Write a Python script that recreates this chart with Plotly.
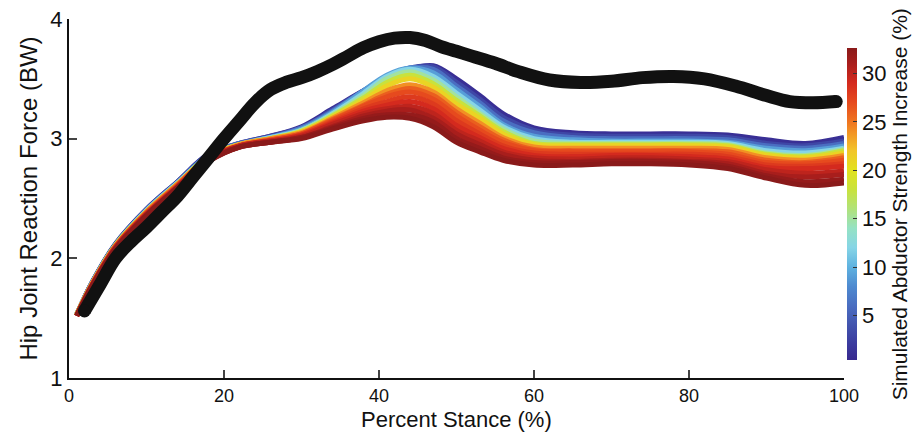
import plotly.graph_objects as go
from plotly.colors import sample_colorscale

# ---------------- data ----------------
# Percent stance sample points for the simulated curves
stance = [1, 3, 6, 10, 14, 18, 22, 26, 30, 34, 38, 41, 44, 47, 50, 53, 56, 60, 65, 70, 75, 80, 85, 90, 95, 100]

# Simulated abductor strength increase (%) of each curve
strength = [1, 3, 6, 9, 12, 15, 18, 21, 24, 26, 27, 28, 29, 30, 31, 32, 33]

s01 = [1.53, 1.80, 2.12, 2.41, 2.64, 2.87, 2.96, 3.02, 3.10, 3.25, 3.40, 3.50, 3.58, 3.61, 3.50, 3.36, 3.21, 3.09, 3.05, 3.04, 3.04, 3.04, 3.03, 2.99, 2.96, 3.01]
s03 = [1.53, 1.80, 2.12, 2.41, 2.64, 2.87, 2.96, 3.02, 3.09, 3.24, 3.40, 3.51, 3.59, 3.60, 3.47, 3.33, 3.18, 3.07, 3.03, 3.02, 3.02, 3.02, 3.01, 2.96, 2.94, 2.98]
s06 = [1.53, 1.80, 2.11, 2.40, 2.63, 2.86, 2.96, 3.01, 3.09, 3.23, 3.40, 3.52, 3.59, 3.58, 3.44, 3.30, 3.15, 3.05, 3.01, 3.00, 3.00, 3.00, 2.99, 2.94, 2.92, 2.96]
s09 = [1.53, 1.79, 2.11, 2.40, 2.63, 2.86, 2.95, 3.01, 3.08, 3.22, 3.40, 3.53, 3.59, 3.55, 3.41, 3.27, 3.12, 3.02, 2.99, 2.98, 2.98, 2.98, 2.97, 2.92, 2.90, 2.94]
s12 = [1.53, 1.79, 2.11, 2.40, 2.63, 2.85, 2.95, 3.01, 3.07, 3.21, 3.38, 3.52, 3.58, 3.52, 3.38, 3.24, 3.10, 3.00, 2.97, 2.97, 2.97, 2.97, 2.96, 2.90, 2.88, 2.92]
s15 = [1.53, 1.79, 2.11, 2.39, 2.62, 2.85, 2.95, 3.00, 3.07, 3.20, 3.36, 3.50, 3.56, 3.49, 3.35, 3.21, 3.08, 2.98, 2.96, 2.96, 2.96, 2.96, 2.95, 2.88, 2.86, 2.91]
s18 = [1.53, 1.79, 2.11, 2.39, 2.62, 2.85, 2.95, 3.00, 3.06, 3.19, 3.34, 3.47, 3.53, 3.46, 3.32, 3.19, 3.06, 2.96, 2.95, 2.95, 2.95, 2.95, 2.94, 2.87, 2.85, 2.90]
s21 = [1.53, 1.79, 2.10, 2.39, 2.62, 2.85, 2.95, 3.00, 3.06, 3.18, 3.32, 3.44, 3.50, 3.43, 3.29, 3.17, 3.04, 2.95, 2.94, 2.94, 2.94, 2.94, 2.93, 2.86, 2.84, 2.88]
s24 = [1.53, 1.79, 2.10, 2.39, 2.62, 2.84, 2.95, 3.00, 3.05, 3.17, 3.30, 3.40, 3.45, 3.39, 3.25, 3.13, 3.01, 2.93, 2.92, 2.92, 2.92, 2.92, 2.91, 2.84, 2.82, 2.86]
s26 = [1.52, 1.78, 2.10, 2.38, 2.61, 2.84, 2.94, 2.99, 3.04, 3.16, 3.28, 3.37, 3.42, 3.36, 3.22, 3.10, 2.99, 2.91, 2.90, 2.90, 2.90, 2.90, 2.89, 2.82, 2.80, 2.84]
s27 = [1.52, 1.78, 2.10, 2.38, 2.61, 2.84, 2.94, 2.99, 3.04, 3.15, 3.27, 3.35, 3.39, 3.33, 3.19, 3.07, 2.97, 2.90, 2.89, 2.89, 2.89, 2.89, 2.87, 2.80, 2.79, 2.82]
s28 = [1.52, 1.78, 2.09, 2.37, 2.60, 2.83, 2.94, 2.98, 3.03, 3.14, 3.25, 3.31, 3.35, 3.29, 3.15, 3.04, 2.94, 2.88, 2.87, 2.87, 2.87, 2.87, 2.85, 2.78, 2.77, 2.79]
s29 = [1.52, 1.78, 2.09, 2.37, 2.60, 2.83, 2.94, 2.98, 3.03, 3.13, 3.23, 3.28, 3.31, 3.25, 3.11, 3.01, 2.92, 2.86, 2.85, 2.86, 2.86, 2.85, 2.83, 2.76, 2.75, 2.77]
s30 = [1.52, 1.78, 2.09, 2.37, 2.60, 2.82, 2.94, 2.98, 3.02, 3.12, 3.21, 3.25, 3.27, 3.21, 3.07, 2.98, 2.89, 2.84, 2.83, 2.84, 2.84, 2.83, 2.81, 2.74, 2.71, 2.73]
s31 = [1.52, 1.77, 2.08, 2.36, 2.59, 2.82, 2.93, 2.97, 3.01, 3.10, 3.19, 3.23, 3.24, 3.17, 3.04, 2.95, 2.87, 2.82, 2.81, 2.82, 2.82, 2.81, 2.79, 2.71, 2.68, 2.70]
s32 = [1.52, 1.77, 2.08, 2.36, 2.59, 2.81, 2.93, 2.97, 3.01, 3.09, 3.17, 3.20, 3.20, 3.14, 3.00, 2.92, 2.84, 2.80, 2.80, 2.81, 2.81, 2.80, 2.77, 2.69, 2.64, 2.66]
s33 = [1.52, 1.77, 2.08, 2.36, 2.59, 2.81, 2.93, 2.97, 3.00, 3.08, 3.15, 3.18, 3.17, 3.10, 2.97, 2.89, 2.82, 2.78, 2.78, 2.79, 2.79, 2.78, 2.75, 2.67, 2.61, 2.63]

curves = [s01, s03, s06, s09, s12, s15, s18, s21, s24, s26, s27, s28, s29, s30, s31, s32, s33]

# Measured (black) curve
meas_x = [2, 4, 6, 8, 10, 12, 14, 16, 18, 20, 22, 24, 26, 28, 30, 32, 34, 36, 38, 40, 42, 44, 46, 48,
          50, 52, 55, 58, 62, 66, 70, 74, 78, 82, 86, 90, 93, 96, 99]
meas_y = [1.56, 1.78, 2.00, 2.14, 2.26, 2.39, 2.52, 2.68, 2.84, 3.00, 3.15, 3.30, 3.41, 3.47, 3.51, 3.56,
          3.62, 3.69, 3.76, 3.81, 3.84, 3.845, 3.82, 3.77, 3.73, 3.69, 3.63, 3.56, 3.49, 3.47, 3.48, 3.51,
          3.52, 3.50, 3.44, 3.36, 3.31, 3.30, 3.31]

x_ticks = [0, 20, 40, 60, 80, 100]
y_ticks = [1, 2, 3, 4]
cb_ticks = [5, 10, 15, 20, 25, 30]

# ---------------- style ----------------
CMIN, CMAX = 0.4, 32.6
colorscale = [
    [0.0, "#38298f"], [0.05, "#3b3a9e"], [0.11, "#4253ad"], [0.17, "#4a6cc0"],
    [0.236, "#4e8ad0"], [0.298, "#5fb2e0"], [0.36, "#86d5e6"], [0.422, "#95e2c4"],
    [0.484, "#b0e27a"], [0.547, "#c9e23c"], [0.609, "#e2e21e"], [0.671, "#f2c52a"],
    [0.733, "#f29024"], [0.764, "#ef7420"], [0.826, "#e64a1e"], [0.888, "#d42a1e"],
    [0.95, "#a81e1c"], [1.0, "#8a1a1a"],
]

FONT = "Liberation Sans, Arial, sans-serif"
PLOT_H = 432 - 19 - 54

fig = go.Figure()

for s, ys in zip(strength, curves):
    t = min(max((s - CMIN) / (CMAX - CMIN), 0), 1)
    col = sample_colorscale(colorscale, [t])[0]
    fig.add_trace(go.Scatter(
        x=stance, y=ys, mode="lines",
        line=dict(color=col, width=5, shape="spline", smoothing=1.0),
        hoverinfo="skip", showlegend=False,
    ))

# colorbar carrier
fig.add_trace(go.Scatter(
    x=[stance[0]] * len(strength), y=[c[0] for c in curves], mode="markers",
    marker=dict(size=0.1, opacity=0, color=strength, colorscale=colorscale,
                cmin=CMIN, cmax=CMAX, showscale=True,
                colorbar=dict(
                    x=1.004, xanchor="left", xpad=0,
                    y=0.484, yanchor="middle", len=0.868, lenmode="fraction", ypad=0,
                    thickness=10, outlinewidth=0,
                    tickvals=cb_ticks, ticks="inside", ticklen=4, tickwidth=1, tickcolor="#333",
                    tickfont=dict(family=FONT, size=22, color="#111"),
                    title=dict(text="Simulated Abductor Strength Increase (%)", side="right",
                               font=dict(family=FONT, size=21, color="#111")),
                )),
    hoverinfo="skip", showlegend=False,
))

# measured curve
fig.add_trace(go.Scatter(
    x=meas_x, y=meas_y, mode="lines",
    line=dict(color="#111111", width=13, shape="spline", smoothing=1.0),
    hoverinfo="skip", showlegend=False,
))
fig.add_trace(go.Scatter(
    x=[meas_x[0], meas_x[-1]], y=[meas_y[0], meas_y[-1]], mode="markers",
    marker=dict(color="#111111", size=13),
    hoverinfo="skip", showlegend=False,
))

fig.update_layout(
    width=923, height=432,
    margin=dict(l=69, r=73, t=19, b=54),
    paper_bgcolor="white", plot_bgcolor="white",
    font=dict(family=FONT, color="#111"),
    xaxis=dict(
        range=[0, 100], tickvals=x_ticks, ticks="inside", ticklen=8, tickwidth=2,
        showline=True, linecolor="#111", linewidth=2, showgrid=False, zeroline=False,
        tickfont=dict(family=FONT, size=18), automargin=False,
    ),
    yaxis=dict(
        range=[1, 4], tickvals=y_ticks, ticks="inside", ticklen=8, tickwidth=2,
        showline=True, linecolor="#111", linewidth=2, showgrid=False, zeroline=False,
        tickfont=dict(family=FONT, size=22), automargin=False,
        title=dict(text="Hip Joint Reaction Force (BW)", font=dict(family=FONT, size=24), standoff=6),
    ),
    annotations=[dict(
        text="Percent Stance (%)", xref="paper", yref="paper",
        x=0.5, y=-41 / PLOT_H, xanchor="center", yanchor="middle", borderpad=0,
        showarrow=False, font=dict(family=FONT, size=22, color="#111"),
    )],
)

fig.write_html(
    "out.html",
    config={"displayModeBar": False},
    post_script="document.body.style.margin='0';document.body.style.overflow='hidden';",
)
